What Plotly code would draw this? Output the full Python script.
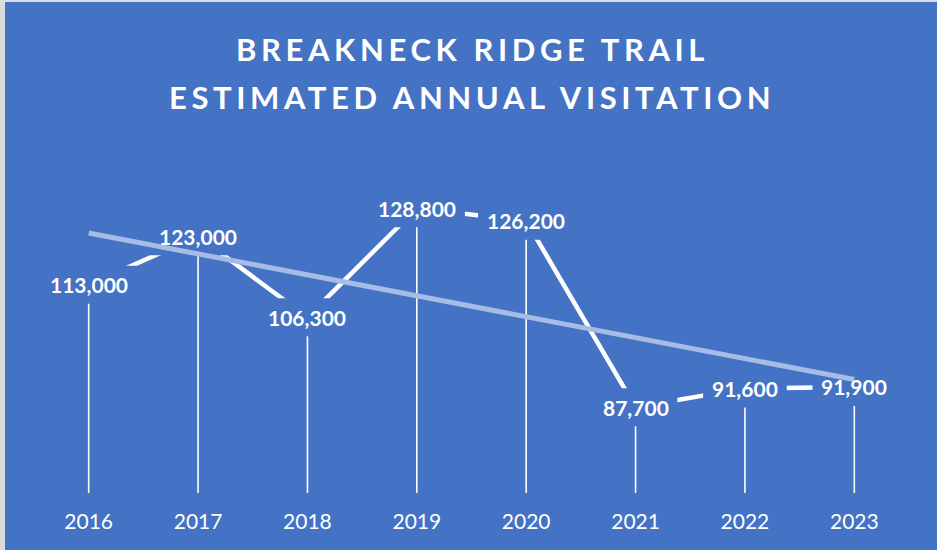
import numpy as np
import plotly.graph_objects as go

years = [2016, 2017, 2018, 2019, 2020, 2021, 2022, 2023]
year_labels = ["2016", "2017", "2018", "2019", "2020", "2021", "2022", "2023"]
visits = [113000, 123000, 106300, 128800, 126200, 87700, 91600, 91900]
value_labels = ["113,000", "123,000", "106,300", "128,800", "126,200", "87,700", "91,600", "91,900"]
title_lines = ["BREAKNECK RIDGE TRAIL", "ESTIMATED ANNUAL VISITATION"]

Y_MIN, Y_MAX = 70000, 140000
BG = "#4472C4"
W, H = 937, 550
L, R, T, B = 34, 28, 154, 57
plot_h = H - T - B
plot_w = W - L - R

fig = go.Figure()

# drop lines
dx, dy = [], []
for x, v in zip(years, visits):
    dx += [x, x, None]
    dy += [Y_MIN, v, None]
fig.add_trace(go.Scatter(x=dx, y=dy, mode="lines",
                         line=dict(color="white", width=1.6),
                         hoverinfo="skip", showlegend=False))

# main line
fig.add_trace(go.Scatter(x=years, y=visits, mode="lines",
                         line=dict(color="white", width=4.5),
                         hoverinfo="skip", showlegend=False))

shapes = []
# label masks
for x, v, lab in zip(years, visits, value_labels):
    hw = 6.3 * len(lab) + 4
    shapes.append(dict(type="rect", xref="x", yref="y",
                       xsizemode="pixel", ysizemode="pixel",
                       xanchor=x, yanchor=v,
                       x0=-hw, x1=hw, y0=-19, y1=19,
                       fillcolor=BG, line=dict(width=0), layer="above"))

# linear trendline
idx = np.arange(len(visits))
slope, intercept = np.polyfit(idx, visits, 1)
shapes.append(dict(type="line", xref="x", yref="y",
                   x0=years[0], y0=intercept,
                   x1=years[-1], y1=intercept + slope * idx[-1],
                   line=dict(color="#A6BCE4", width=5), layer="above"))

# gray border left/top
def px_x(p):
    return (p - L) / plot_w

def px_y(p):
    return (H - B - p) / plot_h

shapes.append(dict(type="rect", xref="paper", yref="paper",
                   x0=px_x(0), x1=px_x(5), y0=px_y(H), y1=px_y(0),
                   fillcolor="#DCDCDC", line=dict(width=0), layer="above"))
shapes.append(dict(type="rect", xref="paper", yref="paper",
                   x0=px_x(0), x1=px_x(W), y0=px_y(2), y1=px_y(0),
                   fillcolor="#DCDCDC", line=dict(width=0), layer="above"))

annotations = []
for x, v, lab in zip(years, visits, value_labels):
    annotations.append(dict(x=x, y=v, xref="x", yref="y", text="<b>" + lab + "</b>",
                            showarrow=False, xanchor="center", yanchor="middle",
                            font=dict(family="Lato", size=21, color="white")))

for line, py in zip(title_lines, [48.5, 96.5]):
    annotations.append(dict(x=px_x(472), y=px_y(py), xref="paper", yref="paper",
                            text='<b><span style="letter-spacing:4.6px">' + line + "</span></b>",
                            showarrow=False, xanchor="center", yanchor="middle",
                            font=dict(family="Lato", size=31, color="white")))

fig.update_layout(
    width=W, height=H,
    margin=dict(l=L, r=R, t=T, b=B, pad=0),
    paper_bgcolor=BG, plot_bgcolor=BG,
    shapes=shapes, annotations=annotations,
    showlegend=False,
    xaxis=dict(range=[2015.5, 2023.5], tickvals=years, ticktext=year_labels,
               showgrid=False, zeroline=False, showline=False, ticks="",
               ticklabelstandoff=14,
               tickfont=dict(family="Lato", size=21, color="white")),
    yaxis=dict(range=[Y_MIN, Y_MAX], visible=False, showgrid=False, zeroline=False),
)

fig.write_html("out.html")
